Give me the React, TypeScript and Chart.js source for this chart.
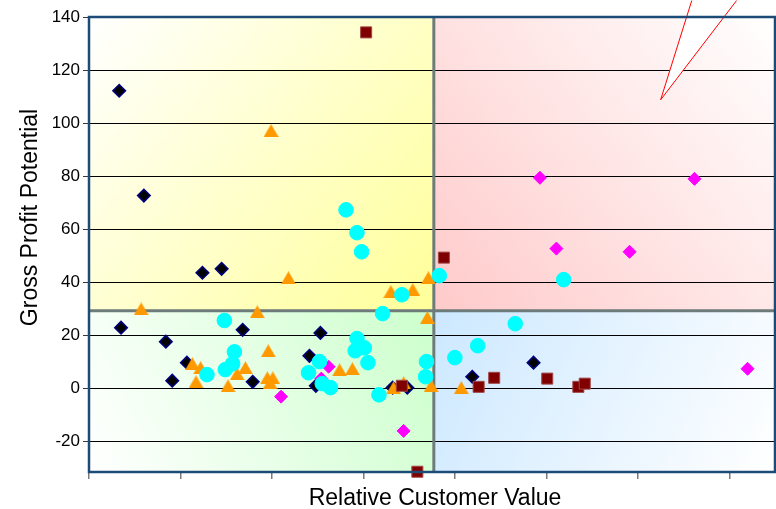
import { useEffect, useRef } from "react";
import { Chart, registerables } from "chart.js";

Chart.register(...registerables);

// Axis ranges and quadrant split values
const X_MIN = 0;
const X_MAX = 7.5;
const X_STEP = 1;
const Y_MIN = -31.5;
const Y_MAX = 140;
const Y_STEP = 20;
const X_SPLIT = 3.77;
const Y_SPLIT = 29.3;

const X_TITLE = "Relative Customer Value";
const Y_TITLE = "Gross Profit Potential";

// Callout pointer (tip and the two far corners), in data units
const CALLOUT_TIP: [number, number] = [6.25, 108.8];
const CALLOUT_BASE: [number, number][] = [
  [6.59, 146.2],
  [7.08, 146.2],
];

// Series: [relative customer value, gross profit potential]
const navyDiamonds: [number, number][] = [
  [0.33, 112.2], [0.6, 72.7], [0.35, 22.9], [0.84, 17.6], [0.91, 2.9],
  [1.07, 9.7], [1.24, 43.6], [1.45, 45.1], [1.68, 22.1], [1.79, 2.5],
  [2.41, 12.3], [2.53, 20.9], [2.48, 1.0], [3.32, 0.3], [3.48, 0.3],
  [4.19, 4.4], [4.86, 9.7],
];

const maroonSquares: [number, number][] = [
  [3.03, 134.2], [3.88, 49.3], [3.42, 1.0], [3.59, -31.4], [4.26, 0.6],
  [4.43, 4.0], [5.01, 3.7], [5.35, 0.6], [5.42, 1.8],
];

const orangeTriangles: [number, number][] = [
  [1.99, 97.2], [2.18, 41.7], [0.57, 30.0], [1.84, 28.9], [1.13, 9.3],
  [1.22, 7.8], [1.17, 2.5], [1.52, 1.0], [1.62, 5.5], [1.71, 7.8],
  [1.96, 14.2], [1.95, 4.0], [2.01, 4.0], [1.98, 2.1], [2.74, 7.0],
  [2.88, 7.4], [3.3, 36.5], [3.54, 37.2], [3.71, 41.7], [3.7, 26.7],
  [3.44, 2.1], [3.33, 0.3], [3.74, 1.0], [4.07, 0.3],
];

const cyanCircles: [number, number][] = [
  [2.81, 67.3], [2.93, 58.7], [2.98, 51.5], [3.42, 35.3], [3.83, 42.5],
  [3.21, 28.2], [2.93, 18.8], [3.01, 15.3], [2.91, 14.2], [3.05, 9.7],
  [3.17, -2.4], [3.69, 10.1], [3.68, 4.4], [4.0, 11.6], [4.66, 24.4],
  [4.25, 16.1], [5.19, 41.0], [1.48, 25.6], [1.59, 13.8], [1.57, 9.3],
  [1.49, 7.1], [1.29, 5.2], [2.4, 5.9], [2.52, 10.1], [2.55, 1.8],
  [2.64, 0.3],
];

const magentaDiamonds: [number, number][] = [
  [4.93, 79.4], [6.62, 79.0], [5.11, 52.7], [5.91, 51.5], [7.2, 7.4],
  [2.1, -3.1], [3.44, -16.0], [2.62, 8.2], [2.54, 3.7],
];

const FONT = '"Liberation Sans", Arial, sans-serif';

const toXY = (pts: [number, number][]) => pts.map(([x, y]) => ({ x, y }));

function makeTriangle(): HTMLCanvasElement {
  const c = document.createElement("canvas");
  c.width = 15;
  c.height = 13;
  const g = c.getContext("2d")!;
  g.beginPath();
  g.moveTo(0, 13);
  g.lineTo(7.5, 0);
  g.lineTo(15, 13);
  g.closePath();
  g.fillStyle = "#FF9900";
  g.fill();
  return c;
}

const decorPlugin = {
  id: "quadrantDecor",
  beforeDraw(chart: any) {
    const { ctx, chartArea: a, scales } = chart;
    const cx = scales.x.getPixelForValue(X_SPLIT);
    const cy = scales.y.getPixelForValue(Y_SPLIT);
    const quad = (
      x0: number, y0: number, x1: number, y1: number,
      fx: number, fy: number, tx: number, ty: number, color: string
    ) => {
      const g = ctx.createLinearGradient(fx, fy, tx, ty);
      g.addColorStop(0, color);
      g.addColorStop(1, "#FFFFFF");
      ctx.fillStyle = g;
      ctx.fillRect(x0, y0, x1 - x0, y1 - y0);
    };
    ctx.save();
    quad(a.left, a.top, cx, cy, cx, cy, a.left, a.top, "#FFFF99");
    quad(cx, a.top, a.right, cy, cx, cy, a.right, a.top, "#FFCACA");
    quad(a.left, cy, cx, a.bottom, cx, cy, a.left, a.bottom, "#CCFFCC");
    quad(cx, cy, a.right, a.bottom, cx, cy, a.right, a.bottom, "#CCE8FF");
    ctx.restore();
  },
  beforeDatasetsDraw(chart: any) {
    const { ctx, chartArea: a, scales } = chart;
    const cx = scales.x.getPixelForValue(X_SPLIT);
    const cy = scales.y.getPixelForValue(Y_SPLIT);
    ctx.save();
    ctx.strokeStyle = "#6E7B7B";
    ctx.lineWidth = 3;
    ctx.beginPath();
    ctx.moveTo(a.left, cy);
    ctx.lineTo(a.right, cy);
    ctx.moveTo(cx, a.top);
    ctx.lineTo(cx, a.bottom);
    ctx.stroke();
    ctx.restore();
  },
  afterDraw(chart: any) {
    const { ctx, chartArea: a, scales } = chart;
    const px = (p: [number, number]) => [
      scales.x.getPixelForValue(p[0]),
      scales.y.getPixelForValue(p[1]),
    ];
    ctx.save();
    // callout pointer
    const [tx, ty] = px(CALLOUT_TIP);
    const [ax, ay] = px(CALLOUT_BASE[0]);
    const [bx, by] = px(CALLOUT_BASE[1]);
    ctx.beginPath();
    ctx.moveTo(ax, ay);
    ctx.lineTo(tx, ty);
    ctx.lineTo(bx, by);
    ctx.closePath();
    ctx.fillStyle = "#FFFFFF";
    ctx.fill();
    ctx.beginPath();
    ctx.moveTo(ax, ay);
    ctx.lineTo(tx, ty);
    ctx.lineTo(bx, by);
    ctx.strokeStyle = "#FF0000";
    ctx.lineWidth = 1;
    ctx.stroke();

    // plot frame
    ctx.strokeStyle = "#1D4B78";
    ctx.lineWidth = 2.5;
    ctx.strokeRect(a.left, a.top, a.right - a.left, a.bottom - a.top);

    // axis titles
    ctx.fillStyle = "#000000";
    ctx.font = `23px ${FONT}`;
    ctx.textAlign = "center";
    ctx.textBaseline = "alphabetic";
    ctx.fillText(X_TITLE, 435, 505);
    ctx.translate(37, 217.5);
    ctx.rotate(-Math.PI / 2);
    ctx.fillText(Y_TITLE, 0, 0);
    ctx.restore();
  },
};

export default function App() {
  const ref = useRef<HTMLCanvasElement | null>(null);

  useEffect(() => {
    document.body.style.margin = "0";
    const canvas = ref.current;
    if (!canvas) return;
    const tri = makeTriangle();

    const chart = new Chart(canvas, {
      type: "scatter",
      data: {
        datasets: [
          {
            label: "Maroon",
            data: toXY(maroonSquares),
            pointStyle: "rect",
            pointRadius: 7.8,
            pointBorderWidth: 1,
            backgroundColor: "#800000",
            borderColor: "#A04848",
            clip: false,
          },
          {
            label: "Cyan",
            data: toXY(cyanCircles),
            pointStyle: "circle",
            pointRadius: 7.3,
            pointBorderWidth: 1,
            backgroundColor: "#00FFFF",
            borderColor: "#00FFFF",
            clip: false,
          },
          {
            label: "Orange",
            data: toXY(orangeTriangles),
            pointStyle: tri,
            pointRadius: 8,
            backgroundColor: "#FF9900",
            borderColor: "#FF9900",
            clip: false,
          },
          {
            label: "Magenta",
            data: toXY(magentaDiamonds),
            pointStyle: "rectRot",
            pointRadius: 6.5,
            pointBorderWidth: 1,
            backgroundColor: "#FF00FF",
            borderColor: "#FF00FF",
            clip: false,
          },
          {
            label: "Navy",
            data: toXY(navyDiamonds),
            pointStyle: "rectRot",
            pointRadius: 6.3,
            pointBorderWidth: 1.5,
            backgroundColor: "#000000",
            borderColor: "#000080",
            clip: false,
          },
        ] as any,
      },
      options: {
        responsive: false,
        animation: false,
        events: [],
        layout: {
          autoPadding: false,
          padding: { top: 17, right: 1, left: 0, bottom: 0 },
        },
        plugins: {
          legend: { display: false },
          tooltip: { enabled: false },
        },
        scales: {
          x: {
            type: "linear",
            min: X_MIN,
            max: X_MAX,
            ticks: {
              stepSize: X_STEP,
              includeBounds: false,
              autoSkip: false,
              maxRotation: 0,
              callback: () => "",
            },
            grid: {
              drawOnChartArea: false,
              drawTicks: true,
              tickLength: 7,
              tickColor: "#7A7A7A",
              lineWidth: 1.5,
            },
            border: { display: false },
            afterFit: (s: any) => {
              s.height = 37;
              s.paddingLeft = 0;
              s.paddingRight = 0;
            },
          },
          y: {
            type: "linear",
            min: Y_MIN,
            max: Y_MAX,
            ticks: {
              stepSize: Y_STEP,
              includeBounds: false,
              padding: 3,
              color: "#000000",
              font: { family: FONT, size: 17 },
            },
            grid: {
              color: "#000000",
              lineWidth: 1,
              drawTicks: true,
              tickLength: 6,
              tickColor: "#3A3A3A",
            },
            border: { display: false },
            afterFit: (s: any) => {
              s.width = 89;
            },
          },
        },
      } as any,
      plugins: [decorPlugin],
    });

    return () => chart.destroy();
  }, []);

  return (
    <div style={{ width: 776, height: 509, overflow: "hidden" }}>
      <canvas ref={ref} width={776} height={509} style={{ display: "block" }} />
    </div>
  );
}
